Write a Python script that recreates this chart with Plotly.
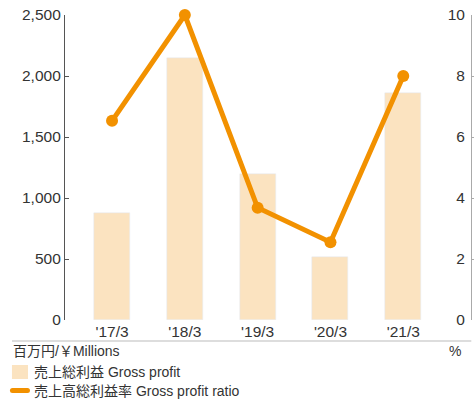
import plotly.graph_objects as go

categories = ["'17/3", "'18/3", "'19/3", "'20/3", "'21/3"]
gross_profit = [875, 2148, 1195, 517, 1858]
gross_profit_ratio = [6.53, 10.0, 3.68, 2.55, 8.0]
left_ticks = [0, 500, 1000, 1500, 2000, 2500]
left_ticktext = ["0", "500", "1,000", "1,500", "2,000", "2,500"]
right_ticks = [0, 2, 4, 6, 8, 10]

BAR = "#FBE3C0"
LINE = "#F29100"
TXT = "#333333"
FONT = "Liberation Sans, Noto Sans CJK JP, sans-serif"

W, H = 474, 401
# plot area in page pixels
PX0, PX1, PY0, PY1 = 65, 470.7, 15, 320
L = PX0
R = W - PX1
T = PY0
B = H - PY1
pw, ph = PX1 - PX0, PY1 - PY0

def px(x):
    return (x - PX0) / pw

def py(y):
    return 1 - (y - PY0) / ph

xs = list(range(len(categories)))

fig = go.Figure()
fig.add_trace(go.Bar(x=xs, y=gross_profit, marker_color=BAR, width=0.495,
                     name="売上総利益 Gross profit", showlegend=False))
fig.add_trace(go.Scatter(x=xs, y=gross_profit_ratio, yaxis="y2", mode="lines+markers",
                         line=dict(color=LINE, width=5), marker=dict(color=LINE, size=12),
                         cliponaxis=False,
                         name="売上高総利益率 Gross profit ratio", showlegend=False))

fig.update_layout(
    width=W, height=H,
    margin=dict(l=L, r=R, t=T, b=B, autoexpand=False),
    plot_bgcolor="white", paper_bgcolor="white",
    font=dict(family=FONT, size=15.5, color=TXT),
    bargap=0,
    xaxis=dict(range=[-0.646, 4.93], tickvals=xs, ticktext=categories,
               showline=False, showgrid=False, zeroline=False, ticks="",
               tickfont=dict(size=15.5, color=TXT)),
    yaxis=dict(range=[0, 2500], tickvals=left_ticks, ticktext=left_ticktext,
               showline=True, linecolor="#555555", linewidth=1.2,
               ticks="inside", ticklen=4, tickcolor="#555555", ticklabeloverflow="allow",
               showgrid=False, zeroline=False, tickfont=dict(size=15.5, color=TXT)),
    yaxis2=dict(range=[0, 10], tickvals=right_ticks, overlaying="y", side="left",
                anchor="free", position=1.0,
                showline=True, linecolor="#aaaaaa", linewidth=1,
                ticks="inside", ticklen=4, tickcolor="#aaaaaa",
                ticklabeloverflow="allow", ticklabelstandoff=3,
                showgrid=False, zeroline=False,
                tickfont=dict(size=15.5, color=TXT)),
    shapes=[
        dict(type="line", xref="paper", yref="paper", x0=px(12), x1=px(471),
             y0=py(341), y1=py(341), line=dict(color="#bbbbbb", width=1.2)),
        dict(type="rect", xref="paper", yref="paper", x0=px(12), x1=px(28),
             y0=py(365), y1=py(379), fillcolor=BAR, line=dict(width=0)),
        dict(type="line", xref="paper", yref="paper", x0=px(12.5), x1=px(27.5),
             y0=py(390.5), y1=py(390.5), line=dict(color=LINE, width=5)),
        dict(type="circle", xref="paper", yref="paper", x0=px(10), x1=px(15),
             y0=py(393), y1=py(388), fillcolor=LINE, line=dict(width=0)),
        dict(type="circle", xref="paper", yref="paper", x0=px(25), x1=px(30),
             y0=py(393), y1=py(388), fillcolor=LINE, line=dict(width=0)),
    ],
    annotations=[
        dict(text="百万円/￥Millions", xref="paper", yref="paper", x=px(11), y=py(351),
             xanchor="left", yanchor="middle", showarrow=False, font=dict(size=14, color=TXT)),
        dict(text="%", xref="paper", yref="paper", x=px(463), y=py(351),
             xanchor="right", yanchor="middle", showarrow=False, font=dict(size=14, color=TXT)),
        dict(text="売上総利益 Gross profit", xref="paper", yref="paper", x=px(32), y=py(372),
             xanchor="left", yanchor="middle", showarrow=False, font=dict(size=14, color=TXT)),
        dict(text="売上高総利益率 Gross profit ratio", xref="paper", yref="paper", x=px(32), y=py(390.5),
             xanchor="left", yanchor="middle", showarrow=False, font=dict(size=14, color=TXT)),
    ],
)

fig.write_html("out.html", config={"displayModeBar": False},
               post_script="document.body.style.margin='0px';document.body.style.overflow='hidden';")
